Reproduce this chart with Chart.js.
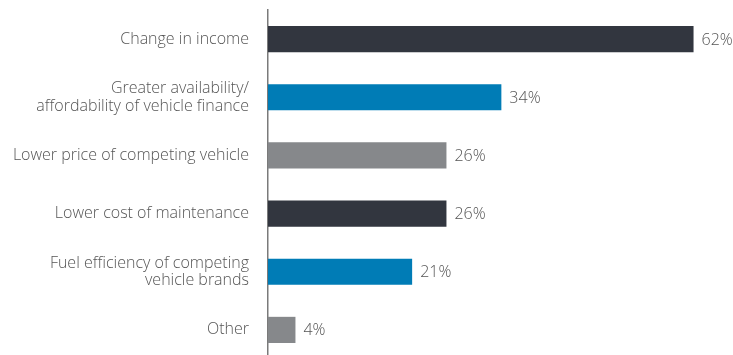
<!DOCTYPE html>
<html>
<head>
<meta charset="utf-8">
<script src="https://cdn.jsdelivr.net/npm/chart.js@4"></script>
<style>
  html, body { margin: 0; padding: 0; background: #fff; overflow: hidden; }
  #wrap { position: relative; width: 733px; height: 359px; }
</style>
</head>
<body>
<div id="wrap"><canvas id="chart"></canvas></div>
<script>
const categories = [
  'Change in income',
  ['Greater availability/', 'affordability of vehicle finance'],
  'Lower price of competing vehicle',
  'Lower cost of maintenance',
  ['Fuel efficiency of competing', 'vehicle brands'],
  'Other',
];
const values = [62, 34, 26, 26, 21, 4];
const barColors = ['#32363f', '#007cb6', '#86888b', '#32363f', '#007cb6', '#86888b'];

const FONT = "'Open Sans', sans-serif";
const TEXT = '#555555';

// writes "62%" etc. just past the end of each bar
const valueLabels = {
  id: 'valueLabels',
  afterDatasetsDraw(chart) {
    const { ctx } = chart;
    const meta = chart.getDatasetMeta(0);
    ctx.save();
    ctx.font = `300 16px ${FONT}`;
    ctx.fillStyle = TEXT;
    ctx.textAlign = 'left';
    ctx.textBaseline = 'middle';
    meta.data.forEach((bar, i) => {
      ctx.fillText(values[i] + '%', bar.x + 8, bar.y + 1);
    });
    ctx.restore();
  },
};

new Chart(document.getElementById('chart'), {
  type: 'bar',
  data: {
    labels: categories,
    datasets: [{
      data: values,
      backgroundColor: barColors,
      borderWidth: 0,
      barPercentage: 0.45,
      categoryPercentage: 1,
    }],
  },
  options: {
    indexAxis: 'y',
    responsive: true,
    maintainAspectRatio: false,
    animation: false,
    layout: { padding: { top: 10, right: 12, bottom: 0, left: 0 } },
    plugins: { legend: { display: false }, tooltip: { enabled: false } },
    scales: {
      x: {
        min: 0,
        max: 66,
        display: false,
      },
      y: {
        grid: { display: false, drawTicks: false },
        border: { display: true, color: '#7a7a7a', width: 1.5 },
        ticks: {
          color: TEXT,
          padding: 19,
          font: { family: FONT, size: 16, weight: 300, lineHeight: 1.1 },
        },
        afterFit(scale) {
          scale.width = 268;
          scale.paddingTop = 0;
          scale.paddingBottom = 0;
        },
      },
    },
  },
  plugins: [valueLabels],
});
</script>
</body>
</html>
